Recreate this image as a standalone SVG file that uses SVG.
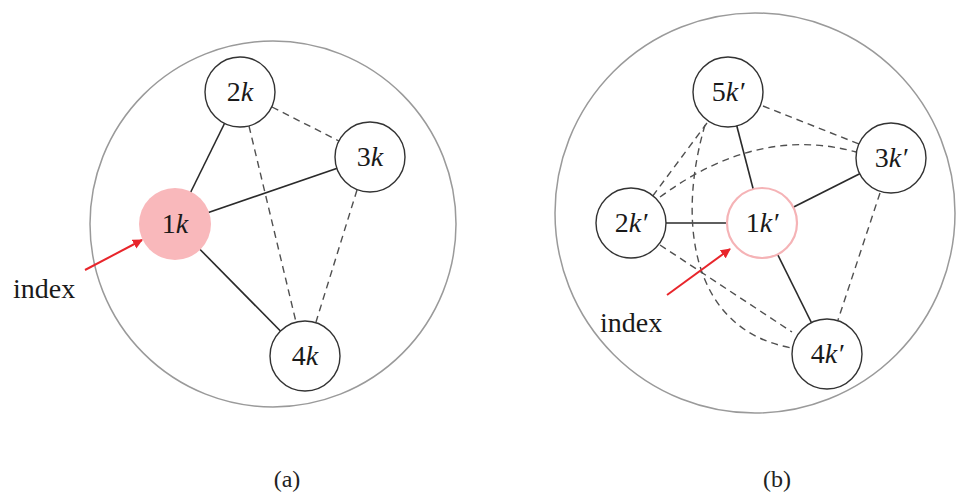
<svg xmlns="http://www.w3.org/2000/svg" width="958" height="493" viewBox="0 0 958 493">
<defs>
<style>
.frame{fill:none;stroke:#9a9a9a;stroke-width:1.5}
.node{fill:#fff;stroke:#333;stroke-width:1.4}
.lbl{font-family:"Liberation Serif","DejaVu Serif",serif;font-size:28px;fill:#1a1a1a;text-anchor:middle}
.it{font-style:italic}
.solid{stroke:#2a2a2a;stroke-width:1.6;fill:none}
.dash{stroke:#505050;stroke-width:1.4;fill:none;stroke-dasharray:7 5}
.red{stroke:#e8252b;stroke-width:2;fill:none}
.txt{font-family:"Liberation Serif","DejaVu Serif",serif;font-size:28px;fill:#1a1a1a}
.cap{font-family:"Liberation Serif","DejaVu Serif",serif;font-size:24px;fill:#222;text-anchor:middle}
</style>
<marker id="ah" viewBox="0 0 10 10" refX="9" refY="5" markerWidth="5" markerHeight="5" orient="auto" markerUnits="strokeWidth">
<path d="M0,0 L10,5 L0,10 z" fill="#e8252b"/>
</marker>
</defs>
<rect width="958" height="493" fill="#fff"/>

<!-- panel (a) -->
<circle id="frame-a" class="frame" cx="273" cy="224" r="183"/>
<g id="edges-a">
<line class="solid" x1="175" y1="224" x2="240" y2="92"/>
<line class="solid" x1="175" y1="224" x2="370" y2="157"/>
<line class="solid" x1="175" y1="224" x2="305" y2="356"/>
<line class="dash" x1="272" y1="107" x2="339" y2="141"/>
<line class="dash" x1="249" y1="126" x2="296" y2="322"/>
<line class="dash" x1="357" y1="190" x2="316" y2="322"/>
</g>
<g id="node-a2"><circle class="node" cx="240" cy="92" r="35"/><text class="lbl" x="240" y="101">2<tspan class="it">k</tspan></text></g>
<g id="node-a3"><circle class="node" cx="370" cy="157" r="35"/><text class="lbl" x="370" y="166">3<tspan class="it">k</tspan></text></g>
<g id="node-a1"><circle cx="175" cy="224" r="36" fill="#f9b8bb"/><text class="lbl" x="175" y="233">1<tspan class="it">k</tspan></text></g>
<g id="node-a4"><circle class="node" cx="305" cy="356" r="35"/><text class="lbl" x="305" y="365">4<tspan class="it">k</tspan></text></g>
<g id="index-a">
<line class="red" x1="85" y1="270" x2="142" y2="240" marker-end="url(#ah)"/>
<text class="txt" x="13" y="298">index</text>
</g>

<!-- panel (b) -->
<circle id="frame-b" class="frame" cx="755" cy="213" r="200"/>
<g id="edges-b">
<line class="solid" x1="762" y1="223" x2="728" y2="92"/>
<line class="solid" x1="762" y1="223" x2="891" y2="158"/>
<line class="solid" x1="762" y1="223" x2="631" y2="223"/>
<line class="solid" x1="762" y1="223" x2="827" y2="354"/>
<line class="dash" x1="763" y1="106" x2="859" y2="144"/>
<line class="dash" x1="707" y1="123" x2="652" y2="197"/>
<line class="dash" x1="880" y1="193" x2="838" y2="320"/>
<line class="dash" x1="660" y1="245" x2="792" y2="332"/>
<path class="dash" d="M660,197 Q758,125 856,152"/>
<path class="dash" d="M705,125 C677,220 690,330 792,348"/>
</g>
<g id="node-b5"><circle class="node" cx="728" cy="92" r="35"/><text class="lbl" x="728" y="101">5<tspan class="it">k′</tspan></text></g>
<g id="node-b3"><circle class="node" cx="891" cy="158" r="35"/><text class="lbl" x="891" y="167">3<tspan class="it">k′</tspan></text></g>
<g id="node-b2"><circle class="node" cx="631" cy="223" r="35"/><text class="lbl" x="631" y="232">2<tspan class="it">k′</tspan></text></g>
<g id="node-b1"><circle cx="762" cy="223" r="35" fill="#fff" stroke="#f5b3b6" stroke-width="2.2"/><text class="lbl" x="762" y="232">1<tspan class="it">k′</tspan></text></g>
<g id="node-b4"><circle class="node" cx="827" cy="354" r="35"/><text class="lbl" x="827" y="363">4<tspan class="it">k′</tspan></text></g>
<g id="index-b">
<line class="red" x1="667" y1="295" x2="730" y2="249" marker-end="url(#ah)"/>
<text class="txt" x="600" y="332">index</text>
</g>

<text class="cap" x="287" y="487">(a)</text>
<text class="cap" x="777" y="487">(b)</text>
</svg>
